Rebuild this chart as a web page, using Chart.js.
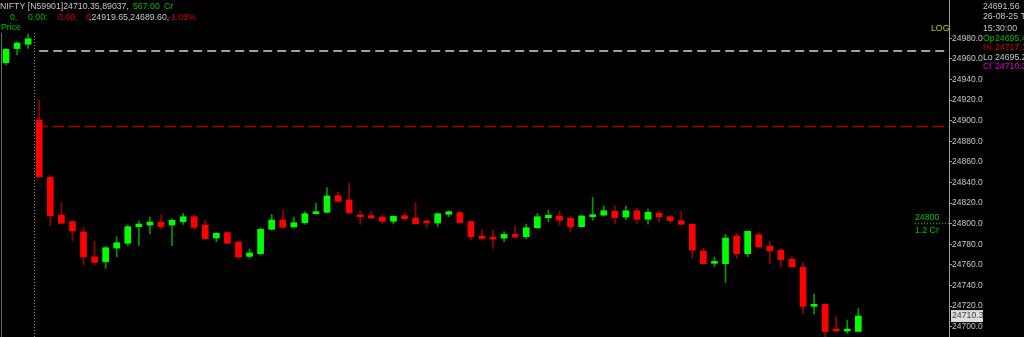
<!DOCTYPE html>
<html><head><meta charset="utf-8">
<script src="https://cdn.jsdelivr.net/npm/chart.js@4.4.1/dist/chart.umd.min.js"></script>
<style>html,body{margin:0;padding:0;background:#000;overflow:hidden}canvas{display:block}</style>
</head><body>
<canvas id="c" width="1024" height="337"></canvas>
<script>
// ---- data (5-minute candles: last 3 of 25-08-25, all of 26-08-25) ----
const times = ["15:15","15:20","15:25",
 "09:15","09:20","09:25","09:30","09:35","09:40","09:45","09:50","09:55","10:00","10:05","10:10",
 "10:15","10:20","10:25","10:30","10:35","10:40","10:45","10:50","10:55","11:00","11:05","11:10",
 "11:15","11:20","11:25","11:30","11:35","11:40","11:45","11:50","11:55","12:00","12:05","12:10",
 "12:15","12:20","12:25","12:30","12:35","12:40","12:45","12:50","12:55","13:00","13:05","13:10",
 "13:15","13:20","13:25","13:30","13:35","13:40","13:45","13:50","13:55","14:00","14:05","14:10",
 "14:15","14:20","14:25","14:30","14:35","14:40","14:45","14:50","14:55","15:00","15:05","15:10",
 "15:15","15:20","15:25"];
const opens = [24956.3,24970.0,24974.2,
 24900.6,24845.0,24808.4,24802.0,24792.0,24767.7,24763.1,24776.4,24781.0,24797.1,24798.7,24801.6,
 24798.7,24802.0,24806.8,24798.7,24786.1,24791.3,24782.2,24768.3,24770.9,24794.6,24803.6,24796.8,
 24801.0,24809.7,24811.1,24827.2,24823.0,24808.4,24807.8,24806.5,24802.3,24807.8,24805.5,24802.3,
 24800.7,24809.1,24810.7,24802.0,24788.0,24786.0,24786.0,24789.6,24787.4,24796.1,24805.8,24807.5,
 24805.2,24797.1,24806.8,24808.4,24812.0,24806.5,24812.6,24804.3,24810.1,24806.8,24803.0,24799.4,
 24773.5,24761.5,24761.2,24788.1,24770.9,24789.3,24778.3,24774.2,24765.4,24757.7,24719.8,24721.7,
 24697.1,24695.8,24695.4];
const highs = [24970.3,24976.4,24984.2,
 24920.0,24847.0,24820.4,24803.3,24796.5,24782.9,24777.7,24787.4,24798.7,24802.6,24806.5,24808.4,
 24804.9,24810.0,24809.1,24803.3,24791.3,24792.0,24783.0,24775.4,24795.5,24809.1,24813.3,24806.5,
 24811.7,24819.8,24835.0,24830.5,24839.2,24812.3,24811.7,24809.1,24807.5,24810.4,24820.4,24803.0,
 24810.5,24812.3,24812.3,24802.5,24794.6,24794.0,24792.0,24797.8,24799.7,24810.0,24813.3,24812.3,
 24807.0,24808.0,24825.6,24817.2,24817.5,24817.0,24815.2,24814.0,24812.5,24807.5,24812.3,24800.5,
 24776.1,24767.7,24789.7,24790.7,24792.8,24792.0,24782.9,24776.1,24768.0,24762.2,24731.7,24722.5,
 24709.7,24706.5,24717.7];
const lows = [24954.1,24963.8,24970.3,
 24845.0,24798.0,24799.7,24783.5,24760.0,24760.0,24756.7,24768.0,24778.7,24778.7,24790.0,24794.6,
 24778.7,24799.4,24794.6,24785.0,24782.5,24780.5,24766.0,24766.4,24770.0,24794.0,24795.5,24796.5,
 24799.4,24809.1,24810.5,24821.5,24810.0,24799.4,24804.6,24800.0,24799.7,24803.0,24799.5,24796.1,
 24797.1,24806.8,24801.0,24784.2,24784.2,24776.1,24782.5,24786.5,24785.4,24795.5,24802.0,24798.7,
 24792.0,24796.5,24803.3,24807.5,24799.7,24803.9,24799.7,24799.5,24802.0,24800.4,24798.5,24766.4,
 24761.0,24758.3,24742.7,24766.4,24768.0,24777.0,24761.2,24757.7,24758.0,24712.3,24712.3,24690.3,
 24695.5,24693.6,24695.2];
const closes = [24969.3,24975.4,24979.6,
 24845.6,24807.8,24800.4,24793.0,24767.7,24762.5,24776.7,24781.5,24797.1,24799.7,24801.6,24797.1,
 24803.3,24806.8,24796.5,24785.4,24790.7,24781.0,24767.7,24771.6,24794.6,24803.6,24796.5,24801.0,
 24809.7,24811.7,24826.9,24821.7,24810.4,24806.8,24805.5,24802.3,24807.2,24804.9,24800.0,24800.7,
 24809.7,24811.7,24801.0,24787.4,24785.8,24785.0,24789.6,24787.0,24796.1,24806.8,24808.2,24803.3,
 24797.1,24807.5,24808.4,24812.6,24805.8,24812.6,24804.3,24811.1,24806.8,24803.0,24799.4,24774.4,
 24761.2,24762.8,24786.1,24770.9,24792.6,24777.4,24773.5,24765.0,24758.0,24719.8,24721.7,24695.1,
 24695.8,24697.0,24710.3];
const priceTicks = [24700,24720,24740,24760,24780,24800,24820,24840,24860,24880,24900,24920,24940,24960,24980];
const prevDayLevel = 24968.0;   // grey dashed reference line
const redLevel = 24895.0;       // red dashed reference line
const volLevel = 24800;         // green dotted volume marker
const lastPrice = 24710.3;
const sessionStartIndex = 3;

const UP_BODY = '#00ff00', DN_BODY = '#ff0000', UP_WICK = '#009a00', DN_WICK = '#9a0000';
const isUp = i => closes[i] >= opens[i];
const FAMILY = '"Liberation Sans", Arial, sans-serif';
const FONT = '8.75px ' + FAMILY;

const overlay = {
  id: 'overlay',
  beforeDraw(chart) {
    const ctx = chart.ctx;
    ctx.save(); ctx.fillStyle = '#000'; ctx.fillRect(0, 0, chart.width, chart.height); ctx.restore();
  },
  beforeDatasetsDraw(chart) {
    const { ctx, chartArea: a, scales: { x, y } } = chart;
    ctx.save();
    // left frame
    ctx.strokeStyle = '#6a6a6a'; ctx.lineWidth = 1;
    ctx.beginPath(); ctx.moveTo(1.5, 33); ctx.lineTo(1.5, a.bottom); ctx.stroke();
    // session separator
    const xs = Math.round(x.getPixelForValue(sessionStartIndex - 0.5)) + 0.5;
    ctx.setLineDash([1, 2]); ctx.strokeStyle = '#8a8a8a';
    ctx.beginPath(); ctx.moveTo(xs, 33); ctx.lineTo(xs, a.bottom); ctx.stroke();
    // grey dashed
    const x0 = x.getPixelForValue(sessionStartIndex);
    let yy = Math.round(y.getPixelForValue(prevDayLevel));
    ctx.setLineDash([9, 5]); ctx.strokeStyle = '#a0a0a0'; ctx.lineWidth = 2;
    ctx.beginPath(); ctx.moveTo(x0, yy); ctx.lineTo(a.right, yy); ctx.stroke();
    // red dashed
    yy = Math.round(y.getPixelForValue(redLevel)) + 0.5;
    ctx.setLineDash([12, 4]); ctx.strokeStyle = '#a00000'; ctx.lineWidth = 1.5;
    ctx.beginPath(); ctx.moveTo(x0 - 3, yy); ctx.lineTo(a.right, yy); ctx.stroke();
    // green dotted volume marker
    yy = Math.round(y.getPixelForValue(volLevel)) - 0.5;
    ctx.setLineDash([1, 2]); ctx.strokeStyle = '#00b000'; ctx.lineWidth = 1.5;
    ctx.beginPath(); ctx.moveTo(a.right - 34, yy); ctx.lineTo(a.right, yy); ctx.stroke();
    ctx.restore();
  },
  afterDraw(chart) {
    const { ctx, chartArea: a, scales: { y } } = chart;
    ctx.save();
    ctx.font = FONT; ctx.textBaseline = 'middle'; ctx.textAlign = 'left';
    const t = (s, px, py, c) => { ctx.fillStyle = c; ctx.fillText(s, px, py); };
    const G = '#c8c8c8', GR = '#00c000', R = '#e00000';
    // header
    t('NIFTY [N59901]24710.35,89037,', 0, 6.5, G);
    t('567.00', 133, 6.5, GR); t('Cr', 164, 6.5, GR);
    t('0,', 10, 17.5, GR); t('0.00:', 28, 17.5, GR);
    t('0.00,', 58, 17.5, R); t('0', 86, 17.5, R);
    t(',24919.65,24689.60,', 89, 17.5, G); t('-1.03%', 168, 17.5, R);
    t('Price', 1, 28, GR);
    t('LOG', 931, 28.5, '#c8c800');
    // volume label
    const yv = y.getPixelForValue(volLevel);
    t('24800', 915, yv - 6, GR); t('1.2 Cr', 915, yv + 6.5, GR);
    // right info panel
    t('24691.56', 983, 7, G); t('26-08-25 T', 983, 17, G); t('15:30:00', 983, 29, G);
    t('Op', 983, 38.5, GR); t('24695.4', 995, 38.5, GR);
    t('Hi', 983, 47.5, R); t('24717.7', 995, 47.5, R);
    t('Lo', 983, 58, G); t('24695.2', 995, 58, G);
    t('Cl', 983, 67, '#e000e0'); t('24710.3', 995, 67, '#e000e0');
    // last price box
    const yl = y.getPixelForValue(lastPrice);
    ctx.fillStyle = '#dcdcdc'; ctx.fillRect(a.right + 2, yl - 6, 32, 12);
    t(lastPrice.toFixed(1), a.right + 3, yl, '#404040');
    ctx.restore();
  }
};

new Chart(document.getElementById('c'), {
  type: 'bar',
  data: {
    labels: times,
    datasets: [
      {
        label: 'body',
        data: opens.map((o, i) => ({ x: i, y: [o, closes[i]] })),
        backgroundColor: opens.map((o, i) => isUp(i) ? UP_BODY : DN_BODY),
        barThickness: 6, minBarLength: 2, grouped: false, borderWidth: 0
      },
      {
        label: 'wick',
        data: lows.map((l, i) => ({ x: i, y: [l, highs[i]] })),
        backgroundColor: lows.map((l, i) => isUp(i) ? UP_WICK : DN_WICK),
        barThickness: 1, grouped: false, borderWidth: 0
      }
    ]
  },
  options: {
    responsive: false, animation: false, events: [],
    layout: { padding: 0 },
    plugins: { legend: { display: false }, tooltip: { enabled: false } },
    scales: {
      x: { type: 'linear', min: -0.542, max: 85.19, display: false, offset: false },
      y: {
        type: 'linear', position: 'right', min: 24690, max: 25017.2,
        afterFit(s) { s.width = 75; s.paddingTop = 0; s.paddingBottom = 0; },
        afterBuildTicks(s) { s.ticks = priceTicks.map(v => ({ value: v })); },
        ticks: { color: '#c8c8c8', font: { family: FAMILY, size: 8.5 },
                 padding: 0, autoSkip: false, callback: v => Number(v).toFixed(1) },
        grid: { drawOnChartArea: false, drawTicks: true, tickLength: 3, color: '#a0a0a0' },
        border: { display: true, color: '#a0a0a0' }
      }
    }
  },
  plugins: [overlay]
});
</script>
</body></html>
